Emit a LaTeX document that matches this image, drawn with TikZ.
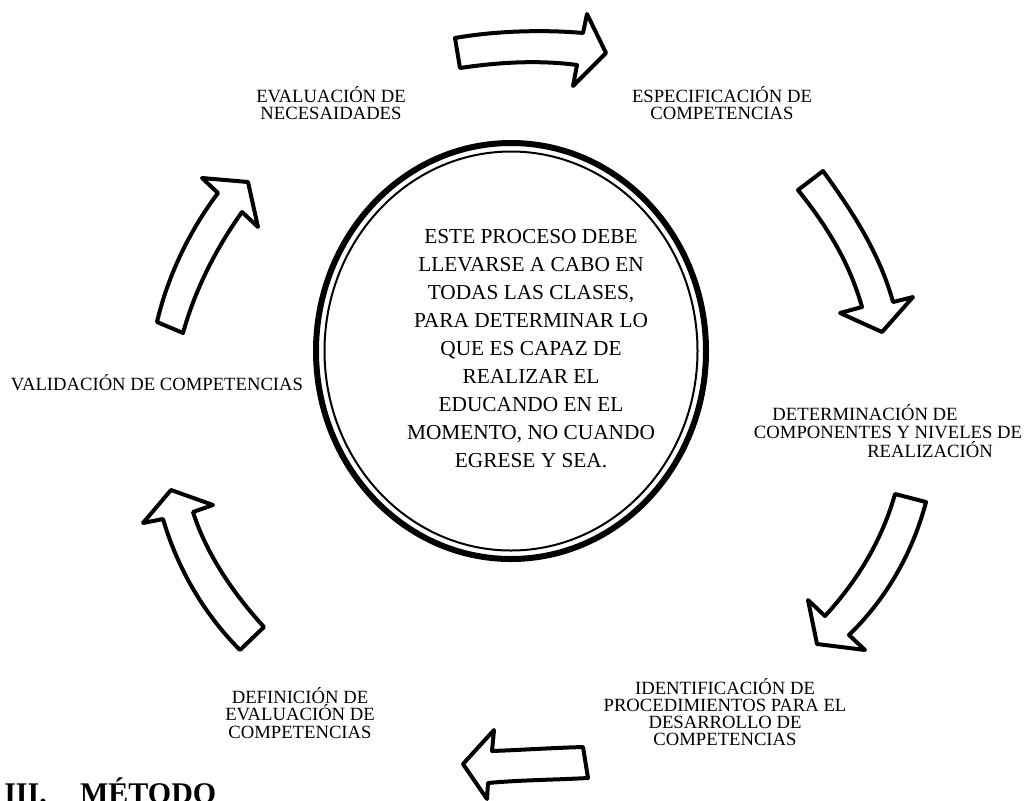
\documentclass[tikz,border=0pt]{standalone}
\usepackage{fontspec}
\setmainfont{Liberation Serif}
\tikzset{
  bigarrow/.style={draw=black, line width=3pt, line join=round, fill=white},
  lbl/.style={inner sep=0pt, align=center, font=\fontsize{14}{12.8}\selectfont},
  ctext/.style={inner sep=0pt, align=center, font=\fontsize{16}{21}\selectfont},
}
\begin{document}
\begin{tikzpicture}[x=0.75pt,y=-0.75pt]
\useasboundingbox (0,0) rectangle (1030,800);
\clip (0,0) rectangle (1030,800);
% central ellipse (thick-thin)
\draw[line width=4.5pt] (511,351) ellipse [x radius=195, y radius=208];
\draw[line width=1.5pt] (511,351) ellipse [x radius=186.5, y radius=199.5];
\node[ctext] (centro) at (531,349) {ESTE PROCESO DEBE\\LLEVARSE A CABO EN\\TODAS LAS CLASES,\\PARA DETERMINAR LO\\QUE ES CAPAZ DE\\REALIZAR EL\\EDUCANDO EN EL\\MOMENTO, NO CUANDO\\EGRESE Y SEA.};

% arrow 1 (top, right)
\draw[bigarrow] (455,38) .. controls (500,30) and (550,30) .. (583,33) -- (587,14) -- (606,53) -- (573,86) -- (577,65) .. controls (540,60) and (500,62) .. (460,68) -- cycle;
% arrow 2 (upper right, down)
\draw[bigarrow] (798,190) -- (823,171) .. controls (855,215) and (880,255) .. (893,302) -- (913,297) -- (882,332) -- (840,313) -- (862,307) .. controls (850,265) and (830,230) .. (798,190) -- cycle;
% arrow 3 (lower right, down-left)
\draw[bigarrow] (895,494) -- (926,502) .. controls (912,555) and (885,600) .. (849,635) -- (865,650) -- (817,644) -- (808,600) -- (825,616) .. controls (858,580) and (882,540) .. (895,494) -- cycle;
% arrow 4 (bottom, left)
\draw[bigarrow] (583,747) -- (588,778) .. controls (550,780) and (520,780) .. (488,783) -- (487,799) -- (463,764) -- (494,730) -- (492,751) .. controls (520,750) and (550,748) .. (583,747) -- cycle;
% arrow 5 (lower left, up)
\draw[bigarrow] (240,650) -- (264,627) .. controls (230,590) and (205,550) .. (193,512) -- (213,505) -- (171,490) -- (143,523) -- (163,519) .. controls (178,570) and (205,615) .. (240,650) -- cycle;
% arrow 6 (upper left, up-right)
\draw[bigarrow] (157,322) .. controls (168,275) and (190,230) .. (218,193) -- (202,178) -- (248,182) -- (258,227) -- (242,212) .. controls (215,250) and (195,290) .. (183,333) -- cycle;

% labels
\node[lbl] (eval) at (331,103) {EVALUACIÓN DE\\NECESAIDADES};
\node[lbl] (espec) at (722,103) {ESPECIFICACIÓN DE\\COMPETENCIAS};
\node[lbl] (det1) at (865,413) {DETERMINACIÓN DE};
\node[lbl] (det2) at (888,432.5) {COMPONENTES Y NIVELES DE};
\node[lbl] (det3) at (930,450) {REALIZACIÓN};
\node[lbl] (ident) at (725,712) {IDENTIFICACIÓN DE\\PROCEDIMIENTOS PARA EL\\DESARROLLO DE\\COMPETENCIAS};
\node[lbl] (defin) at (300,713) {DEFINICIÓN DE\\EVALUACIÓN DE\\COMPETENCIAS};
\node[lbl] (valid) at (157,383) {VALIDACIÓN DE COMPETENCIAS};
\node[inner sep=0pt, anchor=base west, font=\fontsize{22.5}{27}\selectfont\bfseries] (metodo) at (4,803) {III.\hspace{25pt}MÉTODO};
\end{tikzpicture}
\end{document}
